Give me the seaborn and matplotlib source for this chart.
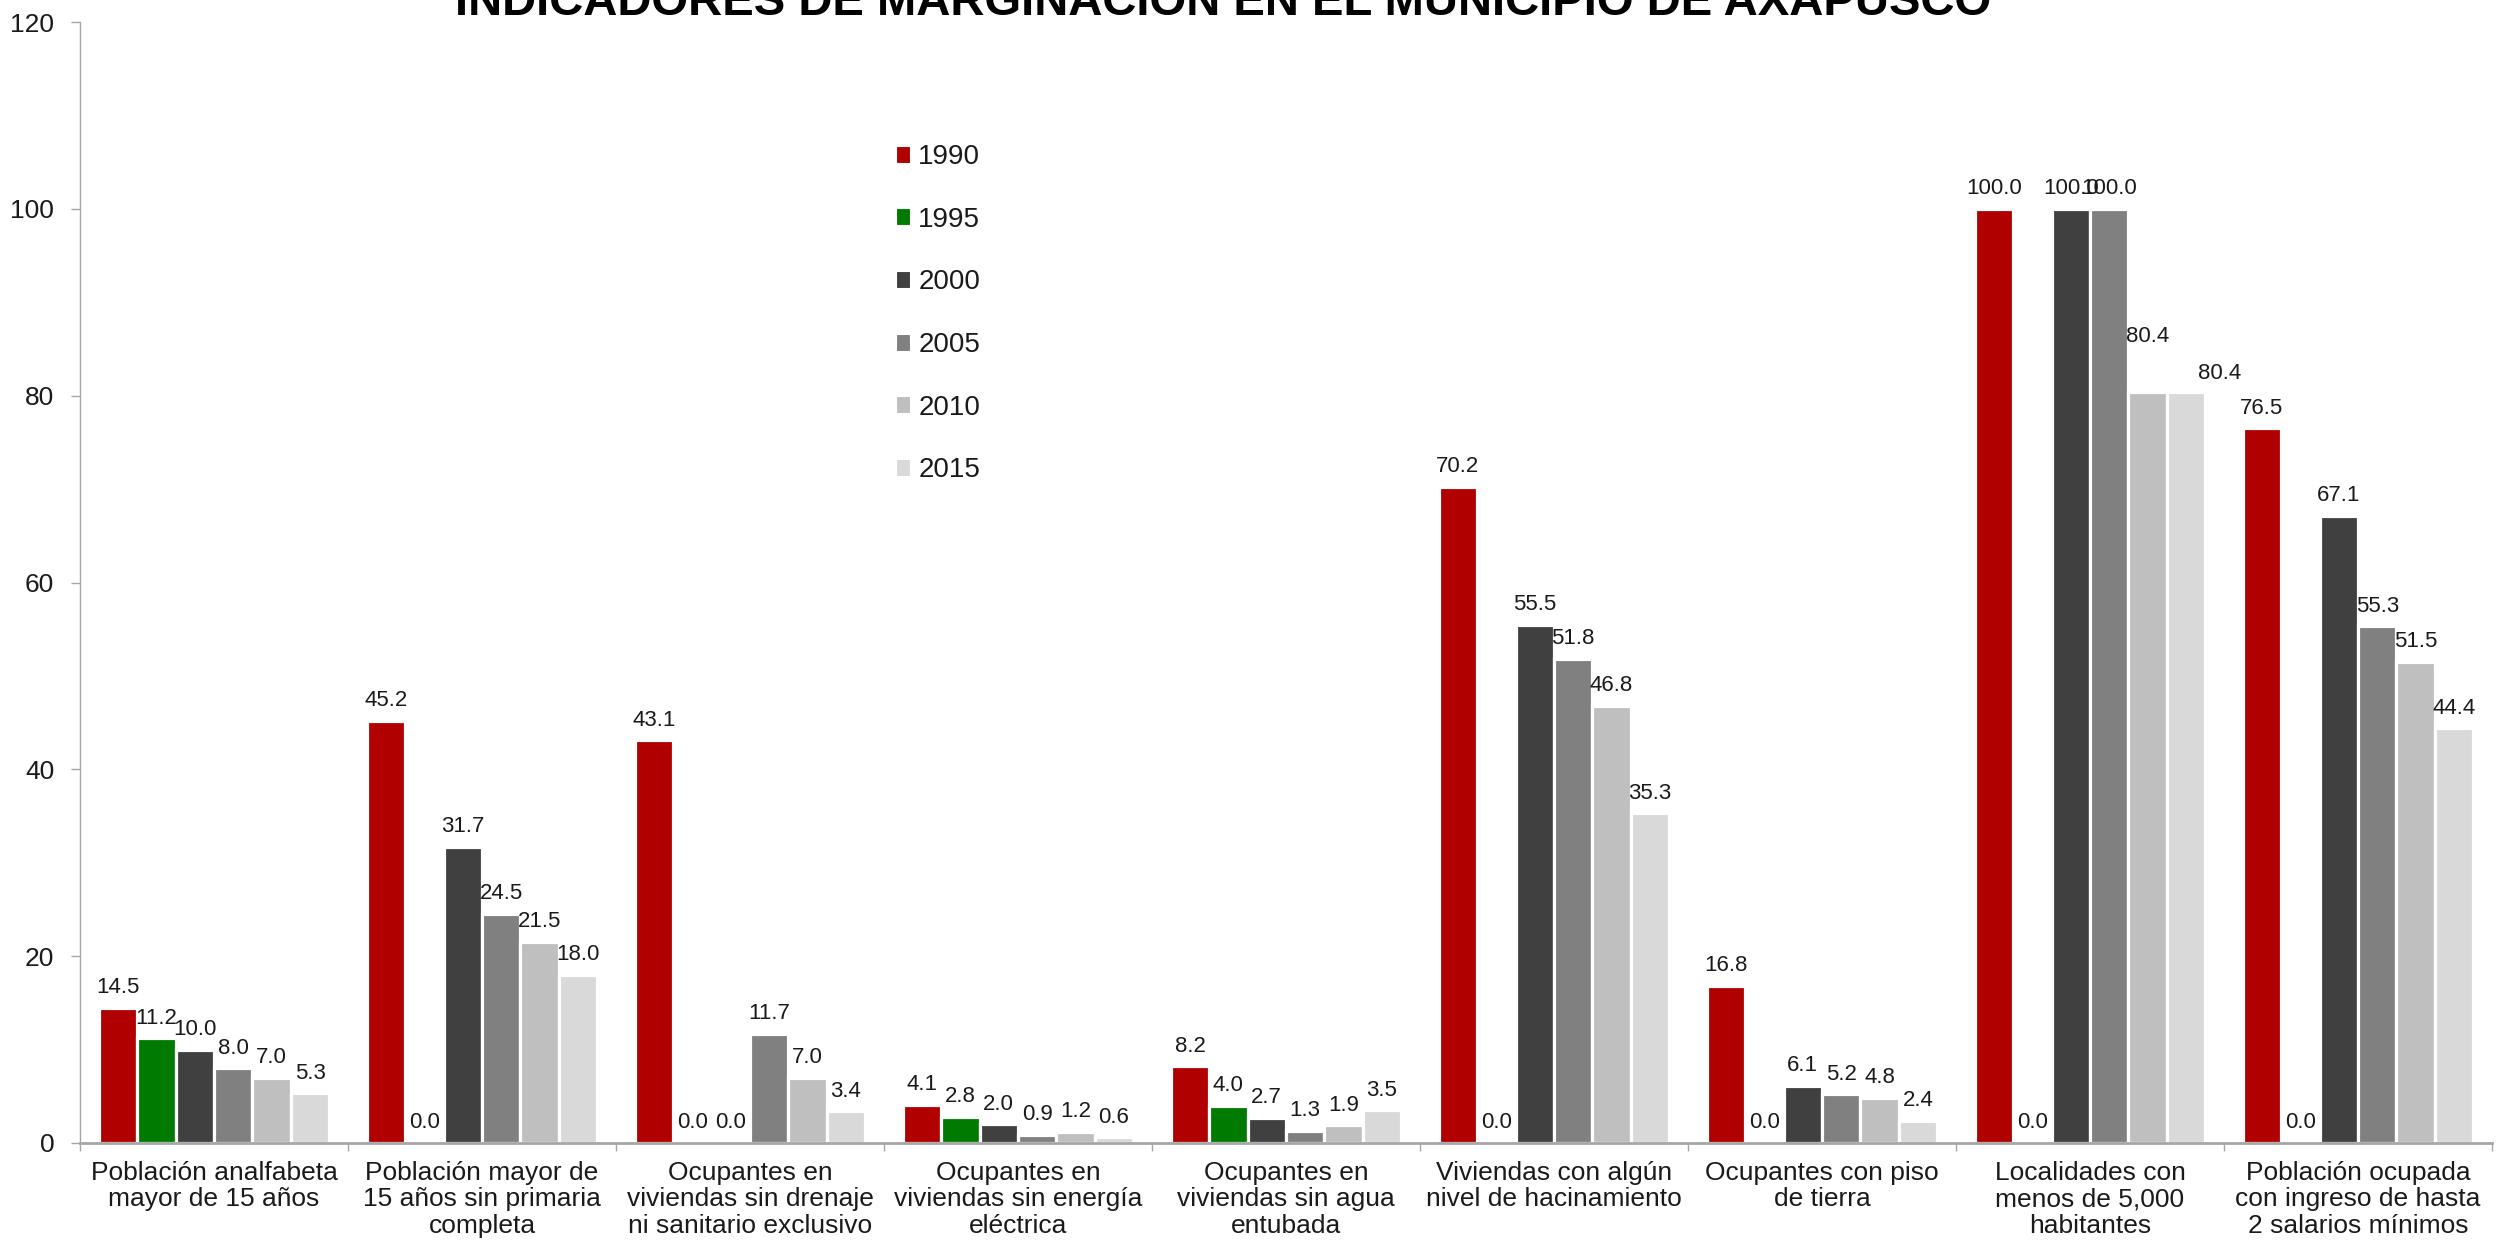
import matplotlib
matplotlib.use("Agg")
import matplotlib.pyplot as plt
from matplotlib.patches import Patch
import seaborn as sns
import pandas as pd

# ---------------- data ----------------
categorias = [
    "Población analfabeta\nmayor de 15 años",
    "Población mayor de\n15 años sin primaria\ncompleta",
    "Ocupantes en\nviviendas sin drenaje\nni sanitario exclusivo",
    "Ocupantes en\nviviendas sin energía\neléctrica",
    "Ocupantes en\nviviendas sin agua\nentubada",
    "Viviendas con algún\nnivel de hacinamiento",
    "Ocupantes con piso\nde tierra",
    "Localidades con\nmenos de 5,000\nhabitantes",
    "Población ocupada\ncon ingreso de hasta\n2 salarios mínimos",
]
anios = ["1990", "1995", "2000", "2005", "2010", "2015"]
v1990 = [14.5, 45.2, 43.1, 4.1, 8.2, 70.2, 16.8, 100.0, 76.5]
v1995 = [11.2, 0.0, 0.0, 2.8, 4.0, 0.0, 0.0, 0.0, 0.0]
v2000 = [10.0, 31.7, 0.0, 2.0, 2.7, 55.5, 6.1, 100.0, 67.1]
v2005 = [8.0, 24.5, 11.7, 0.9, 1.3, 51.8, 5.2, 100.0, 55.3]
v2010 = [7.0, 21.5, 7.0, 1.2, 1.9, 46.8, 4.8, 80.4, 51.5]
v2015 = [5.3, 18.0, 3.4, 0.6, 3.5, 35.3, 2.4, 80.4, 44.4]
y_ticks = [0, 20, 40, 60, 80, 100, 120]
titulo = "INDICADORES DE MARGINACIÓN EN EL MUNICIPIO DE AXAPUSCO"

series = [v1990, v1995, v2000, v2005, v2010, v2015]
colores = ["#B00000", "#007A00", "#404040", "#808080", "#BFBFBF", "#D9D9D9"]

rows = []
for anio, vals in zip(anios, series):
    for cat, v in zip(categorias, vals):
        rows.append({"Indicador": cat, "Año": anio, "Valor": v})
df = pd.DataFrame(rows)

# ---------------- style ----------------
sns.set_style("white")
plt.rcParams["font.family"] = ["Liberation Sans", "DejaVu Sans"]
plt.rcParams["text.color"] = "#1A1A1A"

W, H = 2498, 1255
fig = plt.figure(figsize=(W / 100, H / 100), dpi=100)
ax = fig.add_axes([80 / W, 112 / H, (2492 - 80) / W, (1143 - 22) / H])

sns.barplot(
    data=df, x="Indicador", y="Valor", hue="Año", order=categorias,
    hue_order=anios, palette=colores, saturation=1, width=0.86,
    edgecolor="white", linewidth=2.3, legend=False, ax=ax,
)

ax.set_ylim(0, 120)
ax.set_xlim(-0.5, len(categorias) - 0.5)
ax.set_yticks(y_ticks)
ax.set_xlabel("")
ax.set_ylabel("")

for side in ["top", "right"]:
    ax.spines[side].set_visible(False)
ax.spines["left"].set_color("#A6A6A6")
ax.spines["left"].set_linewidth(1.0)
ax.spines["bottom"].set_color("#A6A6A6")
ax.spines["bottom"].set_linewidth(2.0)

ax.tick_params(axis="y", which="major", length=6.5, width=1.0, color="#A6A6A6",
               labelsize=19, pad=12, labelcolor="#1A1A1A", left=True)
ax.tick_params(axis="x", which="major", length=0, labelsize=19, pad=13,
               labelcolor="#1A1A1A")
ax.set_xticks([i - 0.5 for i in range(len(categorias) + 1)], minor=True)
ax.tick_params(axis="x", which="minor", length=6, width=1.0, color="#A6A6A6",
               bottom=True)
for lbl in ax.get_xticklabels():
    lbl.set_multialignment("center")
    lbl.set_linespacing(1.12)

# data labels
for idx, cont in enumerate(ax.containers):
    anns = ax.bar_label(cont, fmt="%.1f", padding=7, fontsize=16, color="#1A1A1A")
    if idx == 4:
        anns[7].xyann = (0, 32)
    if idx == 5:
        anns[7].xyann = (24, 6)

# legend
handles = [Patch(facecolor=c, edgecolor="white", linewidth=0.8) for c in colores]
leg = ax.legend(handles, anios, loc="upper left",
                bbox_to_anchor=(896 / W, 1 - 144 / H), bbox_transform=fig.transFigure,
                frameon=False, fontsize=20, handlelength=0.5, handleheight=0.55,
                handletextpad=0.3, labelspacing=1.32, borderpad=0, borderaxespad=0)

fig.text(1223 / W, 1 - 15 / H, titulo, ha="center", va="baseline",
         fontsize=34, fontweight="bold", color="black")

fig.savefig("out.png", dpi=100, facecolor="white")
